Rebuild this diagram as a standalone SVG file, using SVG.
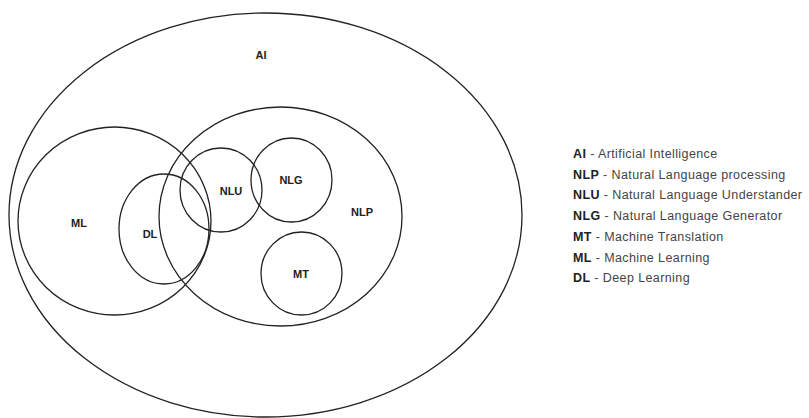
<svg xmlns="http://www.w3.org/2000/svg" width="809" height="418" viewBox="0 0 809 418">
<style>
.s{fill:none;stroke:#222;stroke-width:1.3}
.l{font-family:"Liberation Sans",Arial,sans-serif;font-size:11px;font-weight:bold;fill:#222;text-anchor:middle}
.g{font-family:"Liberation Sans",Arial,sans-serif;font-size:12.5px;letter-spacing:0.4px;fill:#444}
.g tspan.b{font-weight:bold;fill:#222}
</style>
<rect width="809" height="418" fill="#fff"/>
<g id="AI"><ellipse class="s" cx="265.5" cy="215" rx="256.5" ry="202"/><text class="l" x="261" y="59">AI</text></g>
<g id="ML"><ellipse class="s" cx="114.5" cy="221" rx="96.5" ry="94"/><text class="l" x="79" y="227">ML</text></g>
<g id="NLP"><ellipse class="s" cx="280.5" cy="216.5" rx="121.5" ry="109.5"/><text class="l" x="362" y="216">NLP</text></g>
<g id="DL"><ellipse class="s" cx="164" cy="229" rx="45" ry="55"/><text class="l" x="150" y="238">DL</text></g>
<g id="NLU"><ellipse class="s" cx="221" cy="190" rx="41" ry="42"/><text class="l" x="231" y="195">NLU</text></g>
<g id="NLG"><ellipse class="s" cx="291.5" cy="180" rx="40.5" ry="42"/><text class="l" x="291" y="184">NLG</text></g>
<g id="MT"><ellipse class="s" cx="301.5" cy="273.5" rx="40.5" ry="41.5"/><text class="l" x="301" y="278">MT</text></g>
<g id="connectors"></g>
<g id="legend">
<text class="g" x="573" y="158"><tspan class="b">AI</tspan> - Artificial Intelligence</text>
<text class="g" x="573" y="179"><tspan class="b">NLP</tspan> - Natural Language processing</text>
<text class="g" x="573" y="199"><tspan class="b">NLU</tspan> - Natural Language Understander</text>
<text class="g" x="573" y="220"><tspan class="b">NLG</tspan> - Natural Language Generator</text>
<text class="g" x="573" y="241"><tspan class="b">MT</tspan> - Machine Translation</text>
<text class="g" x="573" y="262"><tspan class="b">ML</tspan> - Machine Learning</text>
<text class="g" x="573" y="282"><tspan class="b">DL</tspan> - Deep Learning</text>
</g>
</svg>
